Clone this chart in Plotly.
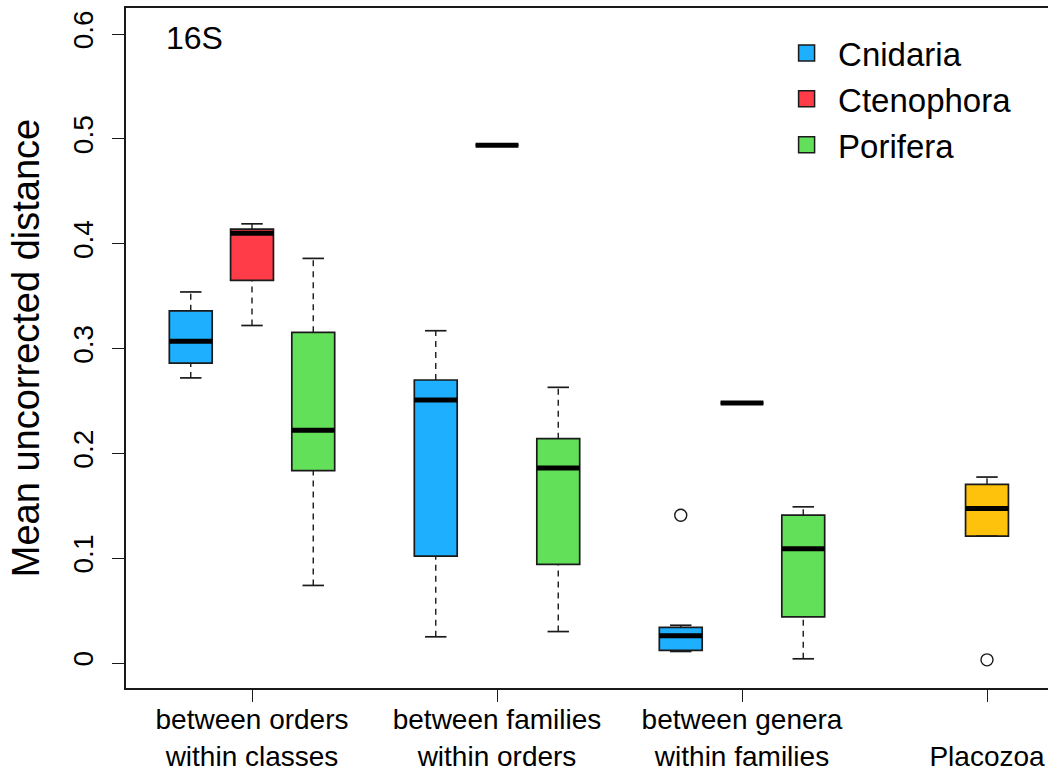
import plotly.graph_objects as go

# Category tick labels (x positions 1..4)
categories = [
    "between orders<br>within classes",
    "between families<br>within orders",
    "between genera<br>within families",
    "<br>Placozoa",
]
category_pos = [1, 2, 3, 4]

# Five-number summaries per taxon and group
cnidaria_lo = [0.272, 0.025, 0.011]
cnidaria_q1 = [0.286, 0.102, 0.012]
cnidaria_med = [0.307, 0.251, 0.026]
cnidaria_q3 = [0.336, 0.270, 0.034]
cnidaria_hi = [0.354, 0.317, 0.036]
cnidaria_out_group = [3]
cnidaria_out_val = [0.141]

ctenophora_lo = [0.322, 0.494, 0.248]
ctenophora_q1 = [0.365, 0.494, 0.248]
ctenophora_med = [0.410, 0.494, 0.248]
ctenophora_q3 = [0.414, 0.494, 0.248]
ctenophora_hi = [0.419, 0.494, 0.248]

porifera_lo = [0.074, 0.030, 0.004]
porifera_q1 = [0.1835, 0.094, 0.044]
porifera_med = [0.222, 0.186, 0.109]
porifera_q3 = [0.3155, 0.214, 0.141]
porifera_hi = [0.386, 0.263, 0.149]

placozoa_lo = [0.121]
placozoa_q1 = [0.121]
placozoa_med = [0.1475]
placozoa_q3 = [0.1705]
placozoa_hi = [0.1774]
placozoa_out_group = [4]
placozoa_out_val = [0.003]

FONT = "Liberation Sans, Arial, Helvetica, sans-serif"
BOX_W = 0.175
CAP_W = BOX_W / 2
DODGE = 0.25
EDGE = "#1a1a1a"

series = [
    dict(name="Cnidaria", color="#1eafff", groups=[1, 2, 3], shift=-DODGE,
         lo=cnidaria_lo, q1=cnidaria_q1, med=cnidaria_med, q3=cnidaria_q3, hi=cnidaria_hi,
         out_g=cnidaria_out_group, out_v=cnidaria_out_val, legend=True),
    dict(name="Ctenophora", color="#ff3c47", groups=[1, 2, 3], shift=0.0,
         lo=ctenophora_lo, q1=ctenophora_q1, med=ctenophora_med, q3=ctenophora_q3, hi=ctenophora_hi,
         out_g=[], out_v=[], legend=True),
    dict(name="Porifera", color="#63e05a", groups=[1, 2, 3], shift=DODGE,
         lo=porifera_lo, q1=porifera_q1, med=porifera_med, q3=porifera_q3, hi=porifera_hi,
         out_g=[], out_v=[], legend=True),
    dict(name="Placozoa", color="#ffc20c", groups=[4], shift=0.0,
         lo=placozoa_lo, q1=placozoa_q1, med=placozoa_med, q3=placozoa_q3, hi=placozoa_hi,
         out_g=placozoa_out_group, out_v=placozoa_out_val, legend=False),
]

fig = go.Figure()

# Boxes (Q1..Q3) as based bars
for s in series:
    xs = [g + s["shift"] for g in s["groups"]]
    fig.add_trace(go.Bar(
        x=xs, y=[b - a for a, b in zip(s["q1"], s["q3"])], base=s["q1"],
        width=BOX_W, name=s["name"], legendgroup=s["name"], showlegend=False,
        marker=dict(color=s["color"], line=dict(color=EDGE, width=1.7)),
    ))

# Dashed whiskers, solid caps, thick medians, open-circle outliers
for s in series:
    xs = [g + s["shift"] for g in s["groups"]]
    wx, wy, cx, cy, mx, my = [], [], [], [], [], []
    for x, lo, q1, med, q3, hi in zip(xs, s["lo"], s["q1"], s["med"], s["q3"], s["hi"]):
        wx += [x, x, None, x, x, None]
        wy += [q3, hi, None, lo, q1, None]
        cx += [x - CAP_W / 2, x + CAP_W / 2, None, x - CAP_W / 2, x + CAP_W / 2, None]
        cy += [hi, hi, None, lo, lo, None]
        mx += [x - BOX_W / 2, x + BOX_W / 2, None]
        my += [med, med, None]
    fig.add_trace(go.Scatter(x=wx, y=wy, mode="lines", showlegend=False, hoverinfo="skip",
                             line=dict(color=EDGE, width=1.4, dash="6px,5px")))
    fig.add_trace(go.Scatter(x=cx, y=cy, mode="lines", showlegend=False, hoverinfo="skip",
                             line=dict(color=EDGE, width=1.7)))
    fig.add_trace(go.Scatter(x=mx, y=my, mode="lines", showlegend=False, hoverinfo="skip",
                             line=dict(color="black", width=5)))
    if s["out_v"]:
        fig.add_trace(go.Scatter(
            x=[g + s["shift"] for g in s["out_g"]], y=s["out_v"], mode="markers",
            showlegend=False,
            marker=dict(symbol="circle-open", size=12, color=EDGE, line=dict(width=1.4)),
        ))

# Legend keys: filled squares with a dark outline
for s in series:
    if s["legend"]:
        fig.add_trace(go.Scatter(
            x=[None], y=[None], mode="markers", name=s["name"], legendgroup=s["name"],
            marker=dict(symbol="square", size=16, color=s["color"],
                        line=dict(color=EDGE, width=1.5)),
        ))

# Panel label
fig.add_annotation(text="16S", xref="paper", yref="paper", x=0.041, y=0.985,
                   xanchor="left", yanchor="top", showarrow=False,
                   font=dict(family=FONT, size=32, color="black"))

fig.update_layout(
    width=1048, height=772,
    margin=dict(l=126, r=0, t=8, b=84),
    paper_bgcolor="white", plot_bgcolor="white",
    barmode="overlay",
    font=dict(family=FONT, color="black"),
    legend=dict(x=0.704, y=0.975, xanchor="left", yanchor="top",
                font=dict(family=FONT, size=33), bgcolor="rgba(0,0,0,0)",
                itemsizing="trace", itemwidth=53, tracegroupgap=0),
    xaxis=dict(
        range=[0.4857, 4.249], showgrid=False, zeroline=False, automargin=False,
        showline=True, linecolor=EDGE, linewidth=1.5, mirror=True,
        tickmode="array", tickvals=category_pos, ticktext=categories,
        ticks="outside", ticklen=12, tickwidth=1.4, tickcolor=EDGE,
        ticklabelstandoff=-6, tickfont=dict(family=FONT, size=28),
    ),
    yaxis=dict(
        range=[-0.02385, 0.6249], showgrid=False, zeroline=False, automargin=False,
        showline=True, linecolor=EDGE, linewidth=1.5,
        tickmode="array", tickvals=[0, 0.1, 0.2, 0.3, 0.4, 0.5, 0.6],
        ticktext=["0", "0.1", "0.2", "0.3", "0.4", "0.5", "0.6"],
        ticks="outside", ticklen=12, tickwidth=1.4, tickcolor=EDGE,
        tickangle=-90, ticklabelstandoff=8, tickfont=dict(family=FONT, size=28),
        title=dict(text="Mean uncorrected distance", standoff=17,
                   font=dict(family=FONT, size=38)),
    ),
)

fig.write_html("out.html")
